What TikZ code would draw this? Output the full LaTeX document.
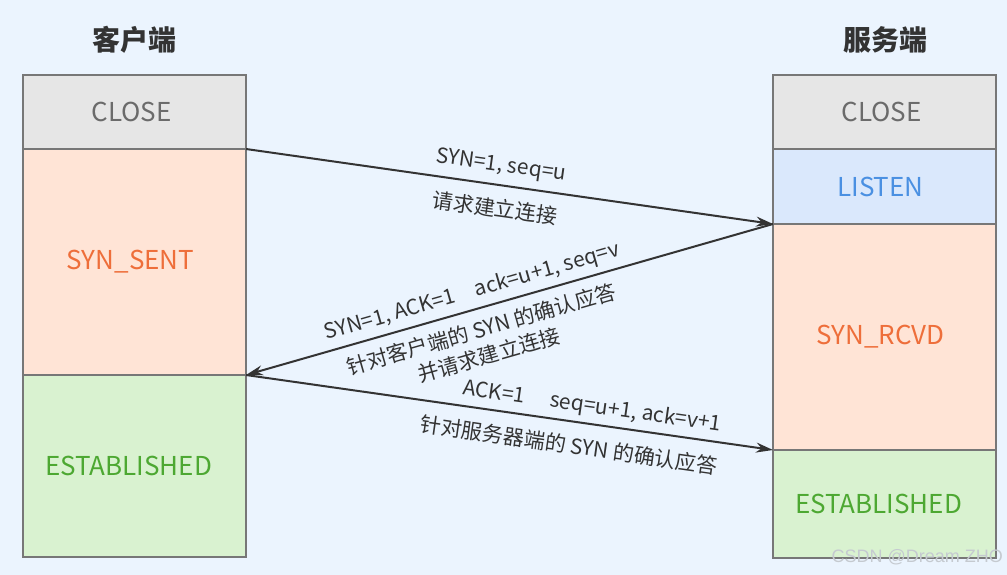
\documentclass[tikz,border=0pt]{standalone}
\usepackage{fontspec}
\setmainfont{Noto Sans CJK SC}
\newfontfamily\wmfont{Liberation Sans}
\usetikzlibrary{arrows.meta}
\definecolor{bgc}{HTML}{EBF4FE}
\definecolor{bordc}{HTML}{777777}
\definecolor{closefill}{HTML}{E6E6E6}
\definecolor{closetext}{HTML}{6B6B6B}
\definecolor{sentfill}{HTML}{FFE4D6}
\definecolor{senttext}{HTML}{EE6E3A}
\definecolor{listenfill}{HTML}{DAE8FC}
\definecolor{listentext}{HTML}{4A90E2}
\definecolor{estfill}{HTML}{D9F2D0}
\definecolor{esttext}{HTML}{4DA832}
\definecolor{arrc}{HTML}{333333}
\definecolor{wmc}{HTML}{C5CAD0}
\tikzset{
  statebox/.style={draw=bordc, line width=2.2pt, anchor=north west, inner sep=0pt, outer sep=0pt,
    minimum width=223pt, font=\fontsize{26}{30}\selectfont},
  title/.style={font=\fontsize{28}{32}\selectfont\bfseries, text=arrc},
  lbl/.style={font=\fontsize{21}{27}\selectfont, text=arrc, align=center, inner sep=0pt},
  msg/.style={draw=arrc, line width=2pt, -{Stealth[length=17pt,width=10pt]}},
  msgback/.style={draw=arrc, line width=2pt, {Stealth[length=17pt,width=10pt]}-},
}
\begin{document}
\begin{tikzpicture}[x=1pt,y=-1pt]
\fill[bgc] (0,0) rectangle (1007,575);
\useasboundingbox (0,0) rectangle (1007,575);
% titles
\node[title] (tc) at (134,40) {客户端};
\node[title] (ts) at (885,40) {服务端};
% client states
\node[statebox, fill=closefill, text=closetext, minimum height=74pt] (cclose) at (23,75) {\hspace{-6pt}CLOSE};
\node[statebox, fill=sentfill, text=senttext, minimum height=226pt] (csent) at (23,149) {\hspace{-8pt}SYN\_SENT};
\node[statebox, fill=estfill, text=esttext, minimum height=182pt] (cest) at (23,375) {\hspace{-12pt}ESTABLISHED};
% server states
\node[statebox, fill=closefill, text=closetext, minimum height=74pt] (sclose) at (773,75) {\hspace{-6pt}CLOSE};
\node[statebox, fill=listenfill, text=listentext, minimum height=75pt] (slisten) at (773,149) {\hspace{-8pt}LISTEN};
\node[statebox, fill=sentfill, text=senttext, minimum height=226pt] (srcvd) at (773,224) {\hspace{-8pt}SYN\_RCVD};
\node[statebox, fill=estfill, text=esttext, minimum height=108pt] (sest) at (773,450) {\hspace{-12pt}ESTABLISHED};
% messages
\draw[msg] (csent.north east) -- (srcvd.north west);
\draw[msgback] (csent.south east) -- (srcvd.north west);
\draw[msg] (cest.north east) -- (sest.north west);
% labels
\node[lbl, rotate=-8] (l1a) at (501,166) {SYN=1, seq=u};
\node[lbl, rotate=-8] (l1b) at (495,208) {请求建立连接};
\node[lbl, rotate=16] (l2a) at (472,292) {SYN=1, ACK=1\hspace{1em}ack=u+1, seq=v};
\node[lbl, rotate=16] (l2b) at (485,342) {针对客户端的 SYN 的确认应答\\并请求建立连接};
\node[lbl, rotate=-8.1] (l3a) at (592,407) {ACK=1\hspace{1.2em}seq=u+1, ack=v+1};
\node[lbl, rotate=-8.1] (l3b) at (569,445) {针对服务器端的 SYN 的确认应答};
% watermark
\node[font=\wmfont\fontsize{18}{20}\selectfont, text=wmc, anchor=east, inner sep=0pt] (wm) at (1003,557) {CSDN @Dream ZHO};
\end{tikzpicture}
\end{document}
